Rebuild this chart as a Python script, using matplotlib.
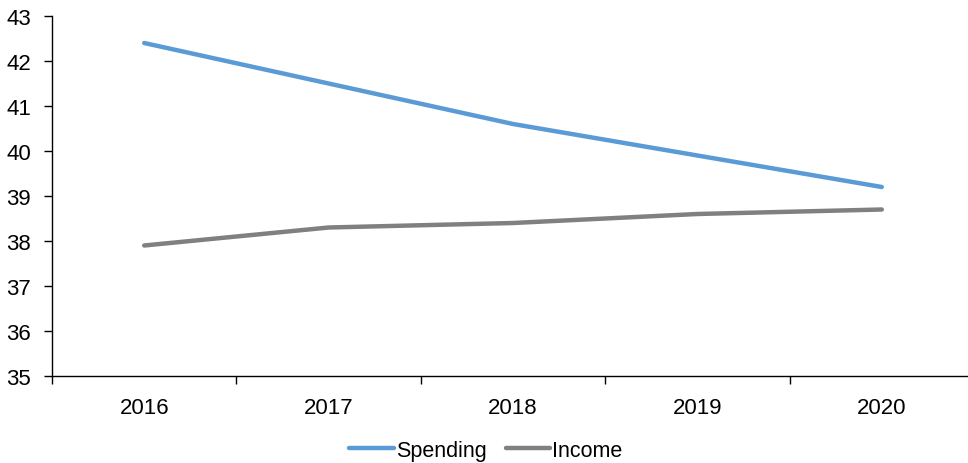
import numpy as np
import matplotlib.pyplot as plt

plt.rcParams['font.family'] = ['Liberation Sans', 'DejaVu Sans']

years = ['2016', '2017', '2018', '2019', '2020']
spending = [42.4, 41.5, 40.6, 39.9, 39.2]
income = [37.9, 38.3, 38.4, 38.6, 38.7]

fig = plt.figure(figsize=(9.68, 4.64), dpi=100)
ax = fig.add_axes([52 / 968, 1 - 377 / 464, 922 / 968, 360 / 464])

x = np.arange(len(years))
ax.plot(x, spending, color='#5B9BD5', lw=3.2, solid_capstyle='round', label='Spending')
ax.plot(x, income, color='#808080', lw=3.2, solid_capstyle='round', label='Income')

ax.set_xlim(-0.5, len(years) - 0.5)
ax.set_ylim(35, 43)
ax.set_yticks(range(35, 44))
ax.set_xticks(x)
ax.set_xticklabels(years)
ax.set_xticks(np.arange(-0.5, len(years), 1), minor=True)
ax.tick_params(axis='x', which='major', length=0, pad=15, labelsize=16)
ax.tick_params(axis='x', which='minor', length=6, width=1, direction='out')
ax.tick_params(axis='y', length=6, width=1, pad=9, labelsize=16)

for s in ['top', 'right']:
    ax.spines[s].set_visible(False)
for s in ['left', 'bottom']:
    ax.spines[s].set_linewidth(1)

fig.legend(loc='center', bbox_to_anchor=(0.502, 0.027), ncol=2, frameon=False,
           fontsize=15.5, handlelength=2.05, handletextpad=0.1, columnspacing=0.9)

fig.savefig('out.png', dpi=100)
